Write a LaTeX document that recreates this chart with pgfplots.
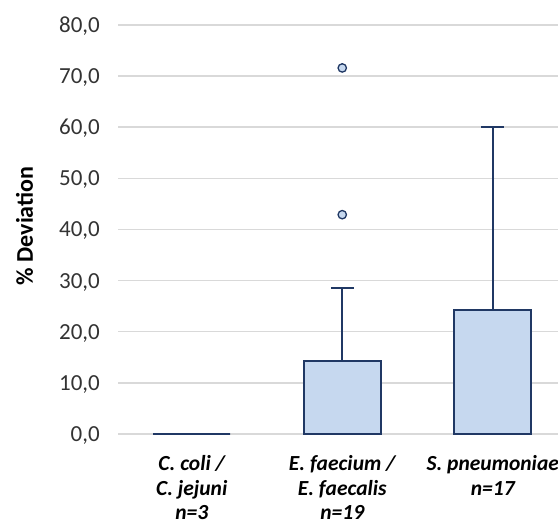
\documentclass[border=0pt]{standalone}
\usepackage{fontspec}
\setmainfont{Carlito}
\usepackage{pgfplots}
\pgfplotsset{compat=1.18}
\usepgfplotslibrary{statistics}
\definecolor{boxfill}{HTML}{C6D8EF}
\definecolor{edge}{HTML}{203864}
\definecolor{gridc}{HTML}{D9D9D9}
\definecolor{tickc}{HTML}{333333}
\begin{document}
\begin{tikzpicture}[x=1bp,y=1bp]
\begin{axis}[
  at={(118bp,92bp)}, anchor=south west,
  scale only axis, width=448.5bp, height=409bp,
  xmin=0.51, xmax=3.49, ymin=0, ymax=80,
  clip=false,
  separate axis lines,
  axis x line*=bottom, axis y line*=left,
  y axis line style={draw=none},
  x axis line style={draw=gridc, line width=2.5bp},
  major tick length=0pt, tick style={draw=none},
  ytick={0,10,...,80},
  ymajorgrids, major grid style={draw=gridc, line width=1.5bp},
  xtick={1,2,3},
  xticklabels={{\strut C. coli /\\C. jejuni\\n=3},{\strut E. faecium /\\E. faecalis\\n=19},{\strut S. pneumoniae\\n=17}},
  xticklabel style={align=center, font=\fontsize{21.5bp}{24.5bp}\selectfont\bfseries\itshape, anchor=north, yshift=-19.5bp, inner sep=0pt, text=black},
  yticklabel style={font=\fontsize{23bp}{28bp}\selectfont, text=tickc, anchor=base east, inner sep=0pt, xshift=-18bp, yshift=-7.5bp,
    /pgf/number format/fixed, /pgf/number format/fixed zerofill, /pgf/number format/precision=1, /pgf/number format/use comma, /pgf/number format/assume math mode=true},
  ylabel={\% Deviation},
  every axis y label/.style={at={(axis description cs:0,0.5)}, xshift=-93.5bp, yshift=3.5bp, rotate=90, anchor=center, font=\fontsize{24bp}{28bp}\selectfont\bfseries, text=black},
  boxplot/draw direction=y,
  boxplot/box extend=0.51,
  boxplot/whisker extend=0.15,
  boxplot/every box/.style={fill=boxfill},
]
\addplot[draw=edge, line width=2bp, boxplot prepared={draw position=1, lower whisker=0, lower quartile=0, median=0, upper quartile=0, upper whisker=0}] coordinates {};
\addplot[draw=edge, line width=2bp, boxplot prepared={draw position=2, lower whisker=0, lower quartile=0, median=0, upper quartile=14.3, upper whisker=28.6}] coordinates {};
\addplot[draw=edge, line width=2bp, boxplot prepared={draw position=3, lower whisker=0, lower quartile=0, median=0, upper quartile=24.3, upper whisker=60.0}] coordinates {};
\addplot[only marks, mark=*, mark size=4.2bp, mark options={fill=boxfill, draw=edge, line width=1.3bp}] coordinates {(2,71.6) (2,42.9)};
\end{axis}
\pgfresetboundingbox
\useasboundingbox (0,0) rectangle (558,526);
\end{tikzpicture}
\end{document}
